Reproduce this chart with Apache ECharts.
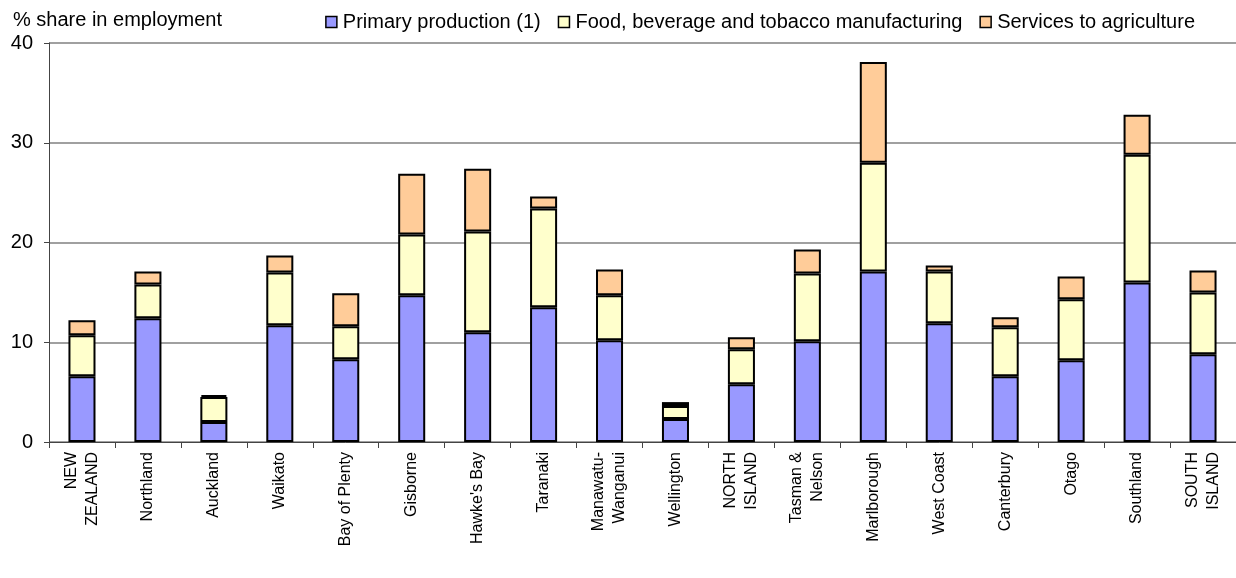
<!DOCTYPE html>
<html style="height: 100%">
<head>
<meta charset="utf-8">
</head>
<body style="height: 100%; margin: 0; background: #fff">
<div id="container" style="width: 1236px; height: 578px"></div>
<script type="text/javascript" src="https://cdn.jsdelivr.net/npm/echarts@6/dist/echarts.min.js"></script>
<script type="text/javascript">
var regions = ['NEW\nZEALAND', 'Northland', 'Auckland', 'Waikato', 'Bay of Plenty', 'Gisborne',
    "Hawke's Bay", 'Taranaki', 'Manawatu-\nWanganui', 'Wellington', 'NORTH\nISLAND', 'Tasman &\nNelson',
    'Marlborough', 'West Coast', 'Canterbury', 'Otago', 'Southland', 'SOUTH\nISLAND'];
var primary = [6.6, 12.4, 2.0, 11.7, 8.3, 14.7, 11.0, 13.5, 10.2, 2.3, 5.8, 10.1, 17.1, 11.9, 6.6, 8.2, 16.0, 8.8];
var food = [4.1, 3.4, 2.5, 5.3, 3.3, 6.1, 10.1, 9.9, 4.5, 1.3, 3.5, 6.8, 10.9, 5.2, 4.9, 6.1, 12.8, 6.2];
var services = [1.5, 1.3, 0.2, 1.7, 3.3, 6.1, 6.3, 1.2, 2.6, 0.4, 1.2, 2.4, 10.1, 0.6, 1.0, 2.3, 4.0, 2.2];
var yTicks = [0, 10, 20, 30, 40];

var dom = document.getElementById('container');
var myChart = echarts.init(dom);
var font = 'Liberation Sans, Arial, sans-serif';

function barSeries(name, data, color) {
    return {
        name: name,
        type: 'bar',
        stack: 'total',
        data: data,
        barWidth: '41%',
        itemStyle: { color: color, borderColor: '#000', borderWidth: 2 },
        emphasis: { disabled: true }
    };
}

var legendBorder = { borderColor: '#000', borderWidth: 1.5 };

var option = {
    animation: false,
    textStyle: { fontFamily: font },
    title: {
        text: '% share in employment',
        left: 8, top: 5,
        textStyle: { fontSize: 20, fontWeight: 'normal', color: '#000', fontFamily: font }
    },
    legend: {
        right: 36, top: 7,
        itemWidth: 11, itemHeight: 11, itemGap: 17,
        textStyle: { fontSize: 20, color: '#000', fontFamily: font, padding: [0, 0, 0, 1] },
        data: [
            { name: 'Primary production (1)', icon: 'rect', itemStyle: legendBorder },
            { name: 'Food, beverage and tobacco manufacturing', icon: 'rect', itemStyle: legendBorder },
            { name: 'Services to agriculture', icon: 'rect', itemStyle: legendBorder }
        ]
    },
    grid: { left: 49, top: 43, width: 1190, height: 399 },
    xAxis: {
        type: 'category',
        data: regions,
        axisLine: { lineStyle: { color: '#444', width: 1 } },
        axisTick: { show: true, length: 6, interval: 0, lineStyle: { color: '#444' } },
        axisLabel: {
            rotate: 90, interval: 0, fontSize: 16, color: '#000', margin: 10,
            lineHeight: 21, fontFamily: font
        }
    },
    yAxis: {
        type: 'value',
        min: yTicks[0], max: yTicks[yTicks.length - 1], interval: 10,
        axisLine: { show: true, lineStyle: { color: '#444' } },
        axisTick: { show: true, length: 5, lineStyle: { color: '#444' } },
        axisLabel: { fontSize: 20, color: '#000', margin: 16, fontFamily: font },
        splitLine: { lineStyle: { color: '#808080', width: 1.5 } }
    },
    series: [
        barSeries('Primary production (1)', primary, '#9999FF'),
        barSeries('Food, beverage and tobacco manufacturing', food, '#FFFFCC'),
        barSeries('Services to agriculture', services, '#FFCC99')
    ]
};
myChart.setOption(option);
window.onresize = myChart.resize;
</script>
</body>
</html>
